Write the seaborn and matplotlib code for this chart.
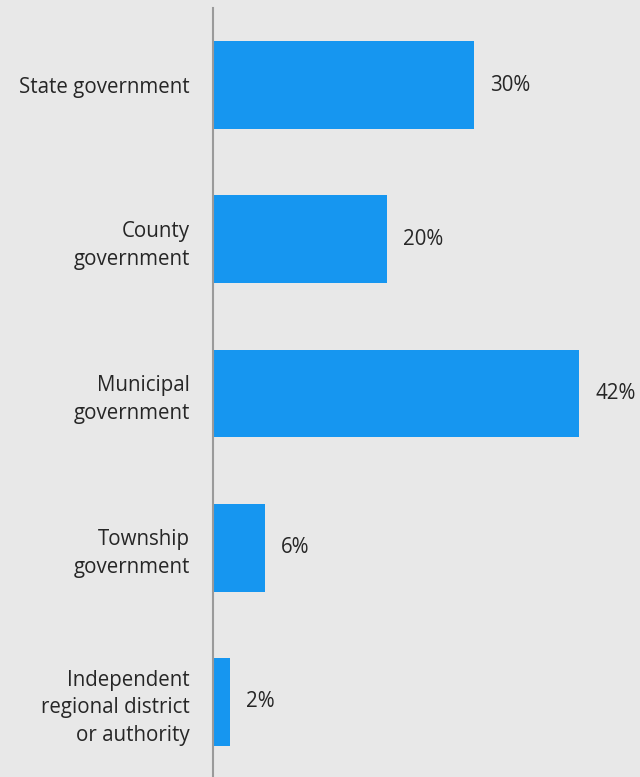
import matplotlib
matplotlib.use("Agg")
import matplotlib.pyplot as plt
import seaborn as sns
import pandas as pd

categories = [
    "State government",
    "County\ngovernment",
    "Municipal\ngovernment",
    "Township\ngovernment",
    "Independent\nregional district\nor authority",
]
values = [30, 20, 42, 6, 2]
value_labels = ["30%", "20%", "42%", "6%", "2%"]

sns.set_style("white")
plt.rcParams["font.family"] = ["Open Sans", "DejaVu Sans"]

bg = "#e8e8e8"
bar_color = "#1696f0"
text_color = "#262626"
font_size = 14.8

df = pd.DataFrame({"category": categories, "value": values})

fig = plt.figure(figsize=(6.4, 7.77), dpi=100, facecolor=bg)
ax = fig.add_axes([213 / 640, -2 / 777, 427 / 640, 771 / 777])
ax.set_facecolor(bg)

sns.barplot(data=df, x="value", y="category", orient="h", color=bar_color,
            width=0.57, saturation=1, linewidth=0, ax=ax)

ax.set_xlim(0, 427 / (366 / 42))
ax.set_ylim(4.5, -0.5)

for i, (v, lab) in enumerate(zip(values, value_labels)):
    ax.annotate(lab, xy=(v, i), xytext=(16, 0), textcoords="offset pixels",
                ha="left", va="center", fontsize=font_size, color=text_color)

ax.set_xlabel("")
ax.set_ylabel("")
ax.set_xticks([])
ax.tick_params(axis="y", length=0, pad=16.5, labelsize=font_size,
               labelcolor=text_color)
for lab in ax.get_yticklabels():
    lab.set_horizontalalignment("right")
    lab.set_multialignment("right")
    lab.set_linespacing(1.42)

for side in ["top", "right", "bottom"]:
    ax.spines[side].set_visible(False)
ax.spines["left"].set_color("#9a9a9a")
ax.spines["left"].set_linewidth(1.5)

fig.savefig("out.png", dpi=100, facecolor=bg)
